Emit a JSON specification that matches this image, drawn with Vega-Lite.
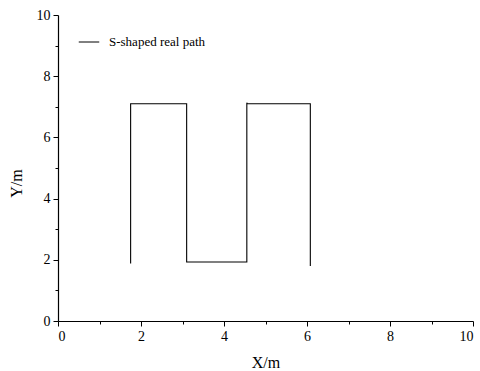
{
  "$schema": "https://vega.github.io/schema/vega-lite/v6.json",
  "width": 415,
  "height": 306,
  "autosize": {"type": "none"},
  "padding": {"left": 58, "top": 15, "right": 7, "bottom": 50},
  "background": "white",
  "config": {
    "view": {"stroke": null},
    "font": "Liberation Serif",
    "axis": {
      "domainColor": "black",
      "tickColor": "black",
      "labelColor": "black",
      "titleColor": "black",
      "grid": false,
      "tickSize": 5,
      "domainWidth": 1.2,
      "tickWidth": 1
    }
  },
  "data": {
    "values": [
      {"order": 1, "x": 1.75, "y": 1.88, "series": "S-shaped real path"},
      {"order": 2, "x": 1.75, "y": 7.1, "series": "S-shaped real path"},
      {"order": 3, "x": 3.1, "y": 7.1, "series": "S-shaped real path"},
      {"order": 4, "x": 3.1, "y": 1.93, "series": "S-shaped real path"},
      {"order": 5, "x": 4.55, "y": 1.93, "series": "S-shaped real path"},
      {"order": 6, "x": 4.55, "y": 7.13, "series": "S-shaped real path"},
      {"order": 7, "x": 4.56, "y": 7.1, "series": "S-shaped real path"},
      {"order": 8, "x": 6.08, "y": 7.1, "series": "S-shaped real path"},
      {"order": 9, "x": 6.08, "y": 1.8, "series": "S-shaped real path"}
    ]
  },
  "resolve": {"axis": {"x": "independent", "y": "independent"}},
  "layer": [
    {
      "mark": {"type": "line", "strokeWidth": 1.1},
      "encoding": {
        "x": {"field": "x", "type": "quantitative", "scale": {"domain": [0, 10], "nice": false},
              "axis": {"orient": "bottom", "values": [0, 2, 4, 6, 8, 10], "title": "X/m", "titlePadding": 11, "labelPadding": 3,
                       "labelFont": "Liberation Serif", "labelFontSize": 14, "titleFont": "Liberation Serif", "titleFontSize": 16, "titleFontWeight": "normal"}},
        "y": {"field": "y", "type": "quantitative", "scale": {"domain": [0, 10], "nice": false},
              "axis": {"orient": "left", "values": [0, 2, 4, 6, 8, 10], "title": "Y/m", "titlePadding": 12, "labelPadding": 3, "titleY": 168,
                       "labelFont": "Liberation Serif", "labelFontSize": 14, "titleFont": "Liberation Serif", "titleFontSize": 16, "titleFontWeight": "normal"}},
        "order": {"field": "order"},
        "color": {"field": "series", "type": "nominal", "scale": {"range": ["black"]},
                  "legend": {"title": null, "orient": "none", "legendX": 20, "legendY": 16,
                             "symbolType": "stroke", "symbolSize": 420, "symbolStrokeWidth": 1,
                             "labelFont": "Liberation Serif", "labelFontSize": 13, "labelColor": "black", "labelOffset": 9}}
      }
    },
    {
      "mark": {"type": "line", "opacity": 0},
      "encoding": {
        "x": {"field": "x", "type": "quantitative", "scale": {"domain": [0, 10], "nice": false},
              "axis": {"orient": "bottom", "values": [1, 3, 5, 7, 9], "labels": false, "title": null, "tickSize": 3, "domain": false}},
        "y": {"field": "y", "type": "quantitative", "scale": {"domain": [0, 10], "nice": false},
              "axis": {"orient": "left", "values": [1, 3, 5, 7, 9], "labels": false, "title": null, "tickSize": 3, "domain": false}},
        "order": {"field": "order"}
      }
    }
  ]
}
